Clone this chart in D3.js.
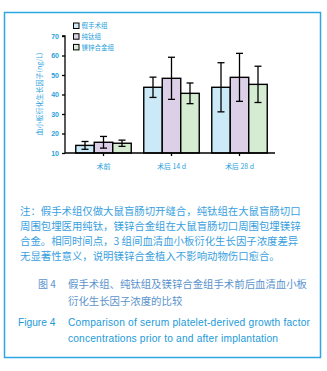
<!DOCTYPE html>
<html>
<head>
<meta charset="utf-8">
<script src="https://cdn.jsdelivr.net/npm/d3@7"></script>
<style>
  body { margin: 0; background: #fff; }
  svg { display: block; }
</style>
</head>
<body>
<div id="chart"></div>
<script>
// data
var groups = ["术前", "术后 14 d", "术后 28 d"];
var seriesNames = ["假手术组", "纯钛组", "镁锌合金组"];
var sham = [13.9, 43.7, 43.7];
var shamErr = [2.0, 5.2, 12.6];
var titanium = [15.5, 48.3, 48.8];
var titaniumErr = [3.0, 10.8, 12.3];
var mgzn = [15.0, 40.6, 45.2];
var mgznErr = [1.6, 5.3, 9.3];
var yTicks = [10, 20, 30, 40, 50, 60, 70];

var colors = ["#cce9f8", "#dccfe8", "#d5ebd2"];
var series = [
    { name: seriesNames[0], values: sham, err: shamErr },
    { name: seriesNames[1], values: titanium, err: titaniumErr },
    { name: seriesNames[2], values: mgzn, err: mgznErr }
];

var W = 327, H = 371;
var svg = d3.select("#chart").append("svg")
    .attr("width", W)
    .attr("height", H);

// outer frame
svg.append("rect")
    .attr("x", 4.5).attr("y", 12.5)
    .attr("width", 316).attr("height", 345)
    .attr("fill", "none")
    .attr("stroke", "#2fa6e4")
    .attr("stroke-width", 1.5);

var x0 = d3.scaleBand()
    .domain(groups)
    .range([69.5, 273.5])
    .paddingInner(0.184)
    .paddingOuter(0.092);

var x1 = d3.scaleBand()
    .domain(d3.range(series.length))
    .range([0, x0.bandwidth()]);

var y = d3.scaleLinear()
    .domain([10, 70])
    .range([153, 36]);

var g = svg.append("g");

// bars
var grp = g.selectAll(".grp")
    .data(groups)
    .enter().append("g")
    .attr("class", "grp")
    .attr("transform", function(d) { return "translate(" + x0(d) + ",0)"; });

grp.each(function(gname, gi) {
    var sel = d3.select(this);
    series.forEach(function(s, si) {
        var v = s.values[gi];
        sel.append("rect")
            .attr("x", x1(si))
            .attr("y", y(v))
            .attr("width", x1.bandwidth())
            .attr("height", y(10) - y(v))
            .attr("fill", colors[si])
            .attr("stroke", "#000")
            .attr("stroke-width", 1.4);

        // error bar
        var cx = x1(si) + x1.bandwidth() / 2;
        var hi = y(v + s.err[gi]), lo = y(v - s.err[gi]);
        sel.append("line")
            .attr("x1", cx).attr("x2", cx)
            .attr("y1", hi).attr("y2", lo)
            .attr("stroke", "#000").attr("stroke-width", 1.3);
        [hi, lo].forEach(function(yy) {
            sel.append("line")
                .attr("x1", cx - 3.5).attr("x2", cx + 3.5)
                .attr("y1", yy).attr("y2", yy)
                .attr("stroke", "#000").attr("stroke-width", 1.3);
        });
    });
});

// axes
var yAxis = d3.axisLeft(y).tickValues(yTicks).tickSize(3).tickPadding(3);
var yg = svg.append("g")
    .attr("transform", "translate(65,0)")
    .call(yAxis);
yg.select(".domain").attr("stroke", "#000").attr("stroke-width", 1.3)
    .attr("d", "M-3," + y(70) + "H0V" + y(10));
yg.selectAll(".tick line").attr("stroke", "#000").attr("stroke-width", 1.3);
yg.selectAll(".tick text")
    .attr("fill", "#2a9fdc")
    .style("font-family", "Liberation Sans, Arial, sans-serif")
    .style("font-size", "7px")
    .style("font-weight", "bold");

var xAxis = d3.axisBottom(x0).tickSize(3).tickPadding(8).tickSizeOuter(0);
var xg = svg.append("g")
    .attr("transform", "translate(0," + y(10) + ")")
    .call(xAxis);
xg.select(".domain").attr("stroke", "#000").attr("stroke-width", 1.3)
    .attr("d", "M65,0H275");
xg.selectAll(".tick line").attr("stroke", "#000").attr("stroke-width", 1.3);
xg.selectAll(".tick text")
    .attr("fill", "#2a9fdc")
    .style("font-family", "Noto Sans CJK SC, sans-serif")
    .style("font-size", "7px");

// y title
svg.append("text")
    .attr("transform", "translate(42,94) rotate(-90)")
    .attr("text-anchor", "middle")
    .attr("fill", "#2a9fdc")
    .style("font-family", "Noto Sans CJK SC, sans-serif")
    .style("font-size", "7px")
    .text("血小板衍化生长因子(ng/L)");

// legend
var leg = svg.selectAll(".leg")
    .data(series)
    .enter().append("g")
    .attr("class", "leg")
    .attr("transform", function(d, i) { return "translate(73.5," + (23 + i * 10.7) + ")"; });
leg.append("rect")
    .attr("width", 5.5).attr("height", 5.5)
    .attr("fill", function(d, i) { return colors[i]; })
    .attr("stroke", "#000").attr("stroke-width", 1);
leg.append("text")
    .attr("x", 8).attr("y", 5.3)
    .attr("fill", "#2a9fdc")
    .style("font-family", "Noto Sans CJK SC, sans-serif")
    .style("font-size", "6.5px")
    .text(function(d) { return d.name; });

// note
var noteLines = [
    "注：假手术组仅做大鼠盲肠切开缝合，纯钛组在大鼠盲肠切口",
    "周围包埋医用纯钛，镁锌合金组在大鼠盲肠切口周围包埋镁锌",
    "合金。相同时间点，3 组间血清血小板衍化生长因子浓度差异",
    "无显著性意义，说明镁锌合金植入不影响动物伤口愈合。"
];
svg.selectAll(".note")
    .data(noteLines)
    .enter().append("text")
    .attr("x", 20)
    .attr("y", function(d, i) { return 214.5 + i * 15.1; })
    .attr("fill", "#3a9fe0")
    .style("font-family", "Noto Sans CJK SC, sans-serif")
    .style("font-size", "10.4px")
    .text(function(d) { return d; });

// caption
var capFont = "Noto Sans CJK SC, sans-serif";
svg.append("text").attr("x", 38).attr("y", 288)
    .attr("fill", "#5b93cc").style("font-family", capFont).style("font-size", "10px")
    .text("图 4");
svg.append("text").attr("x", 68).attr("y", 288)
    .attr("fill", "#5b93cc").style("font-family", capFont).style("font-size", "10.4px")
    .text("假手术组、纯钛组及镁锌合金组手术前后血清血小板");
svg.append("text").attr("x", 68).attr("y", 304.5)
    .attr("fill", "#5b93cc").style("font-family", capFont).style("font-size", "10.4px")
    .text("衍化生长因子浓度的比较");

var enFont = "Liberation Sans, Arial, sans-serif";
svg.append("text").attr("x", 18).attr("y", 326)
    .attr("fill", "#1b9ad8").style("font-family", enFont).style("font-size", "10.2px")
    .text("Figure 4");
svg.append("text").attr("x", 68).attr("y", 326)
    .attr("fill", "#1b9ad8").style("font-family", enFont).style("font-size", "10.2px")
    .attr("textLength", 242)
    .text("Comparison of serum platelet-derived growth factor");
svg.append("text").attr("x", 68).attr("y", 342)
    .attr("fill", "#1b9ad8").style("font-family", enFont).style("font-size", "10.2px")
    .attr("textLength", 210)
    .text("concentrations prior to and after implantation");
</script>
</body>
</html>
